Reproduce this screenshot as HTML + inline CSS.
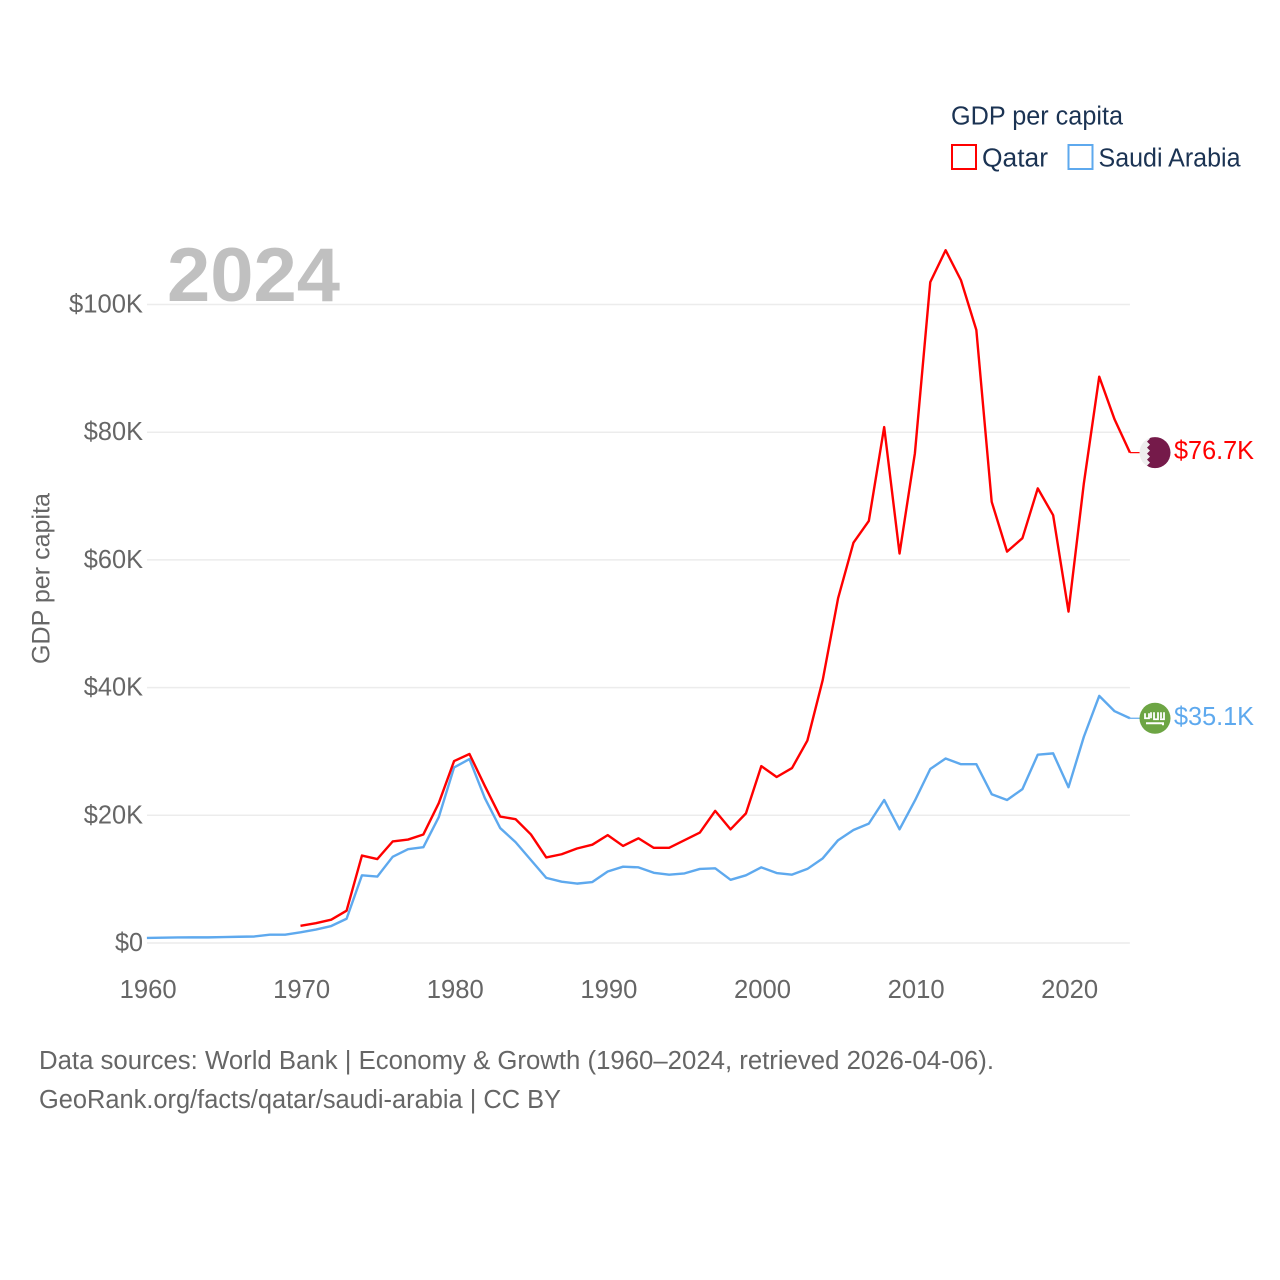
<!DOCTYPE html>
<html lang="en">
<head>
<meta charset="utf-8">
<title>GDP per capita: Qatar and Saudi Arabia</title>
<style>
  html, body { margin: 0; padding: 0; background: #fff; }
  svg { display: block; font-family: "Liberation Sans", sans-serif; }
</style>
</head>
<body>
<svg id="chart" xmlns="http://www.w3.org/2000/svg" width="1280" height="1280" viewBox="0 0 1280 1280">
  <rect width="1280" height="1280" fill="#fff"/>
  <defs>
    <clipPath id="flag-clip"><circle cx="0" cy="0" r="15.5"/></clipPath>
  </defs>
  <g id="grid"></g>
  <text x="167" y="301" font-size="76" font-weight="700" fill="#c0c0c0" textLength="173" lengthAdjust="spacingAndGlyphs">2024</text>
  <g id="y-ticks"></g>
  <g id="x-ticks"></g>
  <text transform="translate(49.5 664) rotate(-90)" font-size="25" fill="#666" textLength="171" lengthAdjust="spacingAndGlyphs">GDP per capita</text>
  <g id="series"></g>

  <g id="flag-qatar">
    <g clip-path="url(#flag-clip)">
      <rect x="-16" y="-16" width="32" height="32" fill="#eeeeee"/>
      <polygon points="-8,-16 -5,-14 -8,-11 -5,-8 -8,-5 -5,-2 -8,1 -5,4 -8,7 -5,10 -8,13 -5,15 -8,16 16,16 16,-16" fill="#751a4a"/>
    </g>
  </g>
  <g id="flag-saudi">
    <circle cx="0" cy="0" r="15.5" fill="#6da544"/>
    <path d="M-10,-5 V0 H-6 V-5 M-4,-6 V0 M-1,-6 V1 H3 V-6 M6,-6 V0 M9,-6 V1 H5" fill="none" stroke="#fff" stroke-width="1.8"/>
    <path d="M-9,5 H8 M8,4 V7" fill="none" stroke="#fff" stroke-width="2"/>
  </g>
  <text id="label-qatar" x="1174" font-size="25.5" fill="#ff0000" textLength="80" lengthAdjust="spacingAndGlyphs"></text>
  <text id="label-saudi" x="1174" font-size="25.5" fill="#5ea9ee" textLength="80" lengthAdjust="spacingAndGlyphs"></text>

  <g>
    <text x="951" y="124.5" font-size="25.5" fill="#1b3353" textLength="172" lengthAdjust="spacingAndGlyphs">GDP per capita</text>
    <rect x="952" y="145" width="24" height="24" fill="#fff" stroke="#ff0000" stroke-width="2"/>
    <text x="982" y="166.5" font-size="25.5" fill="#1b3353" textLength="66" lengthAdjust="spacingAndGlyphs">Qatar</text>
    <rect x="1068.5" y="145" width="24" height="24" fill="#fff" stroke="#5ea9ee" stroke-width="2"/>
    <text x="1098.5" y="166.5" font-size="25.5" fill="#1b3353" textLength="142" lengthAdjust="spacingAndGlyphs">Saudi Arabia</text>
  </g>

  <g>
    <text x="39" y="1069" font-size="25.5" fill="#666" textLength="955" lengthAdjust="spacingAndGlyphs">Data sources: World Bank | Economy &amp; Growth (1960–2024, retrieved 2026-04-06).</text>
    <text x="39" y="1108" font-size="25.5" fill="#666" textLength="522" lengthAdjust="spacingAndGlyphs">GeoRank.org/facts/qatar/saudi-arabia | CC BY</text>
  </g>
</svg>
<script>
const yTickValues = [0, 20, 40, 60, 80, 100];
const yTickLabels = ['$0', '$20K', '$40K', '$60K', '$80K', '$100K'];
const xTickValues = [1960, 1970, 1980, 1990, 2000, 2010, 2020];
const saudiStartYear = 1960;
const qatarStartYear = 1970;
const saudiValues = [0.8, 0.83, 0.87, 0.88, 0.88, 0.93, 0.98, 1.02, 1.3, 1.3,
  1.67, 2.1, 2.66, 3.8, 10.6, 10.4, 13.5, 14.7, 15.0, 19.7,
  27.5, 28.8, 22.7, 18.0, 15.8, 13.0, 10.2, 9.6, 9.3, 9.55,
  11.2, 11.95, 11.85, 11.0, 10.7, 10.9, 11.6, 11.7, 9.9, 10.6,
  11.85, 10.96, 10.7, 11.6, 13.26, 16.1, 17.7, 18.7, 22.4, 17.8,
  22.3, 27.25, 28.9, 28.0, 28.0, 23.3, 22.4, 24.1, 29.5, 29.7,
  24.4, 32.3, 38.7, 36.3, 35.2];
const qatarValues = [2.7, 3.1, 3.65, 5.06, 13.7, 13.15, 15.9, 16.2, 17.0, 21.9,
  28.5, 29.6, 24.6, 19.8, 19.4, 17.0, 13.4, 13.9, 14.8, 15.4,
  16.9, 15.2, 16.4, 14.9, 14.9, 16.1, 17.3, 20.7, 17.8, 20.3,
  27.7, 26.0, 27.4, 31.7, 41.2, 54.0, 62.7, 66.1, 80.8, 61.0,
  76.7, 103.5, 108.5, 103.8, 96.0, 69.1, 61.3, 63.4, 71.2, 67.0,
  51.9, 72.0, 88.7, 82.0, 76.8];
const qatarLabel = '$76.7K';
const saudiLabel = '$35.1K';

const NS = 'http://www.w3.org/2000/svg';
const xScale = year => 146.9 + (year - 1960) * 15.36;
const yScale = value => 943 - value * 6.385;
const plotRight = xScale(2024);

function svgEl(tag, parent) {
  const el = document.createElementNS(NS, tag);
  parent.appendChild(el);
  return el;
}

const gridGroup = document.getElementById('grid');
const yTickGroup = document.getElementById('y-ticks');
yTickValues.forEach((v, i) => {
  const line = svgEl('line', gridGroup);
  
  
  line.setAttribute('x1', 147);
  line.setAttribute('x2', plotRight);
  line.setAttribute('y1', yScale(v));
  line.setAttribute('y2', yScale(v));
  line.setAttribute('stroke', '#ececec');
  line.setAttribute('stroke-width', 1.5);

  const label = svgEl('text', yTickGroup);
  
  
  label.setAttribute('x', 143);
  label.setAttribute('y', yScale(v) + 8);
  label.setAttribute('text-anchor', 'end');
  label.setAttribute('font-size', 25.5);
  label.setAttribute('fill', '#666');
  label.setAttribute('textLength', yTickLabels[i].length === 2 ? 28 : yTickLabels[i].length * 14.8);
  label.setAttribute('lengthAdjust', 'spacingAndGlyphs');
  label.textContent = yTickLabels[i];
});

const xTickGroup = document.getElementById('x-ticks');
xTickValues.forEach(year => {
  const label = svgEl('text', xTickGroup);
  
  
  label.setAttribute('x', xScale(year) + 1.2);
  label.setAttribute('y', 998);
  label.setAttribute('text-anchor', 'middle');
  label.setAttribute('font-size', 25.5);
  label.setAttribute('fill', '#666');
  label.setAttribute('textLength', 57);
  label.setAttribute('lengthAdjust', 'spacingAndGlyphs');
  label.textContent = String(year);
});

function linePoints(values, startYear) {
  return values.map((v, i) => xScale(startYear + i).toFixed(2) + ',' + yScale(v).toFixed(2)).join(' ');
}

const seriesGroup = document.getElementById('series');

const saudiLine = svgEl('polyline', seriesGroup);


saudiLine.setAttribute('points', linePoints(saudiValues, saudiStartYear));
saudiLine.setAttribute('fill', 'none');
saudiLine.setAttribute('stroke', '#5ea9ee');
saudiLine.setAttribute('stroke-width', 2.4);
saudiLine.setAttribute('stroke-linejoin', 'round');

const qatarLine = svgEl('polyline', seriesGroup);


qatarLine.setAttribute('points', linePoints(qatarValues, qatarStartYear));
qatarLine.setAttribute('fill', 'none');
qatarLine.setAttribute('stroke', '#ff0000');
qatarLine.setAttribute('stroke-width', 2.4);
qatarLine.setAttribute('stroke-linejoin', 'round');

const qatarEndY = yScale(qatarValues[qatarValues.length - 1]);
const saudiEndY = yScale(saudiValues[saudiValues.length - 1]);

const qatarConnector = svgEl('line', seriesGroup);


qatarConnector.setAttribute('x1', plotRight);
qatarConnector.setAttribute('x2', 1140);
qatarConnector.setAttribute('y1', qatarEndY);
qatarConnector.setAttribute('y2', qatarEndY);
qatarConnector.setAttribute('stroke', '#ff0000');
qatarConnector.setAttribute('stroke-width', 1.2);

const saudiConnector = svgEl('line', seriesGroup);


saudiConnector.setAttribute('x1', plotRight);
saudiConnector.setAttribute('x2', 1140);
saudiConnector.setAttribute('y1', saudiEndY);
saudiConnector.setAttribute('y2', saudiEndY);
saudiConnector.setAttribute('stroke', '#5ea9ee');
saudiConnector.setAttribute('stroke-width', 1.2);

document.getElementById('flag-qatar').setAttribute('transform', 'translate(1155 ' + qatarEndY + ')');
document.getElementById('flag-saudi').setAttribute('transform', 'translate(1155 ' + saudiEndY + ')');

const qatarText = document.getElementById('label-qatar');
qatarText.setAttribute('y', qatarEndY + 6.5);
qatarText.textContent = qatarLabel;

const saudiText = document.getElementById('label-saudi');
saudiText.setAttribute('y', saudiEndY + 7);
saudiText.textContent = saudiLabel;
</script>
</body>
</html>
